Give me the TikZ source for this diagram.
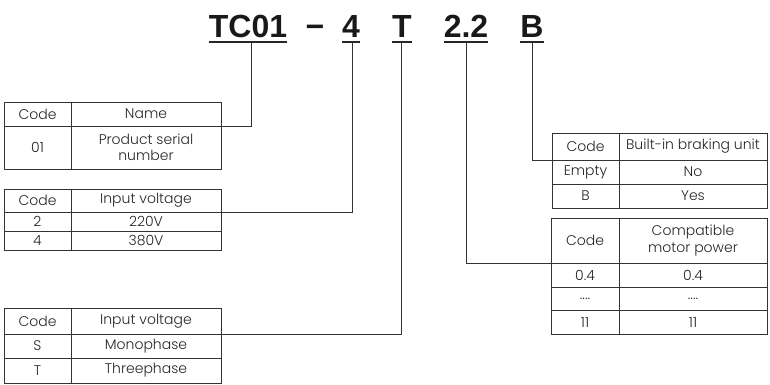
\documentclass[tikz,border=0pt]{standalone}
\usepackage{fontspec}
\setmainfont{Poppins}[UprightFont=* Light]
\newfontfamily\headfont{Liberation Sans}
\usetikzlibrary{positioning,calc}

\begin{document}
\begin{tikzpicture}[x=1pt,y=-1pt,
	cell/.style={draw=black!80,line width=0.8pt,inner sep=0pt,outer sep=0pt,align=center,
		font=\fontsize{14}{16.5}\selectfont,text=black!85},
	codecol/.style={cell,minimum width=67pt},
	namecol/.style={cell,minimum width=150pt},
	letter/.style={inner sep=0pt,outer sep=0pt,anchor=base,text=black!90,
		font=\headfont\bfseries\fontsize{32}{36}\selectfont},
	uline/.style={line width=2pt,black!85},
	link/.style={line width=0.8pt,black!80}]
	
	\useasboundingbox (0,0) rectangle (770,385);
	
	\node [letter] (tc01) at (248,38) {TC01};
	\node [letter] (dash) at (315,38) {−};
	\node [letter] (volt) at (351,38) {4};
	\node [letter] (phase) at (402,38) {T};
	\node [letter] (power) at (466,38) {2.2};
	\node [letter] (brake) at (532,38) {B};
	%
	\foreach \h in {tc01,volt,phase,power,brake}
		\draw [uline] ($(\h.base west)+(0,4)$) -- ($(\h.base east)+(0,4)$);
	
	%%%%%%%%%%%%%%%%%%%%%%%%%%%%%%%%%%%%%%%%%%%%%%%%%%%%%%
	
	\node [codecol,minimum height=24pt,anchor=north west] (serial-code) at (4,102) {Code};
	\node [namecol,minimum height=24pt,right=0pt of serial-code] (serial-name) {Name};
	\node [codecol,minimum height=43pt,below=0pt of serial-code] (serial-01) {01};
	\node [namecol,minimum height=43pt,right=0pt of serial-01] {Product serial\\number};
	
	\draw [link] ($(tc01.base)+(3,4)$) |- (serial-name.south east);
	
	%%%%%%%%%%%%%%%%%%%%%%%%%%%%%%%%%%%%%%%%%%%%%%%%%%%%%%
	
	\node [codecol,minimum height=23pt,anchor=north west] (volt-code) at (4,189) {Code};
	\node [namecol,minimum height=23pt,right=0pt of volt-code] (volt-name) {Input voltage};
	\node [codecol,minimum height=19pt,below=0pt of volt-code] (volt-2) {2};
	\node [namecol,minimum height=19pt,right=0pt of volt-2] {220V};
	\node [codecol,minimum height=19pt,below=0pt of volt-2] (volt-4) {4};
	\node [namecol,minimum height=19pt,right=0pt of volt-4] {380V};
	
	\draw [link] ($(volt.base)+(1,4)$) |- (volt-name.south east);
	
	%%%%%%%%%%%%%%%%%%%%%%%%%%%%%%%%%%%%%%%%%%%%%%%%%%%%%%
	
	\node [codecol,minimum height=26pt,anchor=north west] (phase-code) at (4,308) {Code};
	\node [namecol,minimum height=26pt,right=0pt of phase-code] (phase-name) {Input voltage};
	\node [codecol,minimum height=24pt,below=0pt of phase-code] (phase-s) {S};
	\node [namecol,minimum height=24pt,right=0pt of phase-s] {Monophase};
	\node [codecol,minimum height=25pt,below=0pt of phase-s] (phase-t) {T};
	\node [namecol,minimum height=25pt,right=0pt of phase-t] {Threephase};
	
	\draw [link] ($(phase.base)+(-1,4)$) |- (phase-name.south east);
	
	%%%%%%%%%%%%%%%%%%%%%%%%%%%%%%%%%%%%%%%%%%%%%%%%%%%%%%
	
	\node [codecol,minimum height=27pt,anchor=north west] (brake-code) at (552,133) {Code};
	\node [namecol,minimum width=148pt,minimum height=27pt,right=0pt of brake-code] {Built-in braking unit};
	\node [codecol,minimum height=24pt,below=0pt of brake-code] (brake-empty) {Empty};
	\node [namecol,minimum width=148pt,minimum height=24pt,right=0pt of brake-empty] {No};
	\node [codecol,minimum height=24pt,below=0pt of brake-empty] (brake-b) {B};
	\node [namecol,minimum width=148pt,minimum height=24pt,right=0pt of brake-b] {Yes};
	
	\draw [link] ($(brake.base)+(0,4)$) |- (brake-code.south west);
	
	%%%%%%%%%%%%%%%%%%%%%%%%%%%%%%%%%%%%%%%%%%%%%%%%%%%%%%
	
	\node [codecol,minimum width=68pt,minimum height=45pt,anchor=north west] (power-code) at (551,218) {Code};
	\node [namecol,minimum width=148pt,minimum height=45pt,right=0pt of power-code] {Compatible\\motor power};
	\node [codecol,minimum width=68pt,minimum height=24pt,below=0pt of power-code] (power-04) {0.4};
	\node [namecol,minimum width=148pt,minimum height=24pt,right=0pt of power-04] {0.4};
	\node [codecol,minimum width=68pt,minimum height=23pt,below=0pt of power-04] (power-dots) {....};
	\node [namecol,minimum width=148pt,minimum height=23pt,right=0pt of power-dots] {....};
	\node [codecol,minimum width=68pt,minimum height=24pt,below=0pt of power-dots] (power-11) {11};
	\node [namecol,minimum width=148pt,minimum height=24pt,right=0pt of power-11] {11};
	
	\draw [link] ($(power.base)+(0,4)$) |- (power-code.south west);
	
\end{tikzpicture}
\end{document}
